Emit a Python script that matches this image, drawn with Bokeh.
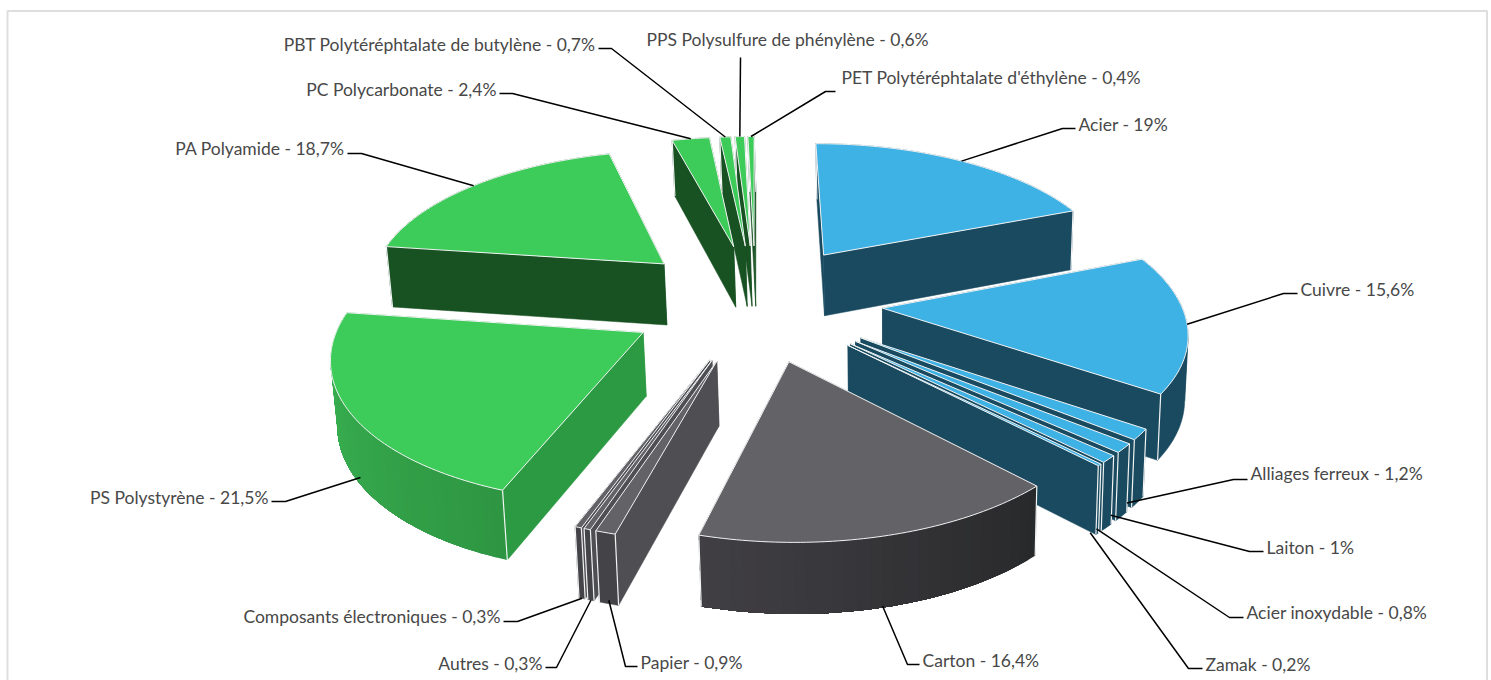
import math
from bokeh.plotting import figure
from bokeh.models import Range1d
from bokeh.core.properties import value
from bokeh.embed import file_html
from bokeh.resources import INLINE

# ---- data -------------------------------------------------------------
materials = ["Acier", "Cuivre", "Alliages ferreux", "Laiton", "Acier inoxydable", "Zamak",
             "Carton", "Papier", "Autres", "Composants électroniques",
             "PS Polystyrène", "PA Polyamide", "PC Polycarbonate",
             "PBT Polytéréphtalate de butylène", "PPS Polysulfure de phénylène",
             "PET Polytéréphtalate d'éthylène"]
shares = [19, 15.6, 1.2, 1, 0.8, 0.2, 16.4, 0.9, 0.3, 0.3, 21.5, 18.7, 2.4, 0.7, 0.6, 0.4]
families = ["blue"] * 6 + ["gray"] * 4 + ["green"] * 6

# ---- style ------------------------------------------------------------
TOP = {"blue": "#3EB1E5", "gray": "#626267", "green": "#3DCC59"}
RADIAL = {"blue": "#1A4A60", "gray": "#4F4E53", "green": "#185223"}
RADIAL_OVERRIDE = {"PS Polystyrène": "#2C9A43"}
RIM = {"Carton": ("#28292B", "#413F44"), "PS Polystyrène": ("#2E9642", "#3BB855")}
RIM_DEFAULT = {"blue": ("#1A4A60", "#1A4A60"), "gray": ("#444448", "#444448"), "green": ("#185223", "#185223")}
EDGE = "#F2F4F4"
# projection of the tilted pie
CX, CY, A, B, K, EXPLODE = 755, 301, 298, 138, 0.135, 0.426
DEPTH, K_D, LEAN, VX = 62.6, 0.0886, 0.012, 900
# label: x, y, align, elbow points, fraction of wall height for the leader's end, end nudge
LAYOUT = {
    "Acier": (1078, 124, "left", [(1075, 128), (1062, 128)], 0, (0, 0)),
    "Cuivre": (1300, 289, "left", [(1297, 293), (1283, 293)], 0, (0, 0)),
    "Alliages ferreux": (1250, 473, "left", [(1247, 479), (1233, 479)], 0.85, (-11, 11)),
    "Laiton": (1266, 547, "left", [(1263, 551), (1249, 551)], 0.85, (-11, 9)),
    "Acier inoxydable": (1246, 612, "left", [(1243, 617), (1229, 617)], 0.9, (-10, 8)),
    "Zamak": (1205, 664, "left", [(1202, 668), (1188, 668)], 1.0, (-7, -1)),
    "Carton": (922, 660, "left", [(919, 664), (907, 664)], 0.9, (-3, 6)),
    "Papier": (640, 662, "left", [(637, 666), (625, 666)], 0.95, (0, 0)),
    "Autres": (542, 663, "right", [(545, 667), (556, 667)], 1.0, (0, 0)),
    "Composants électroniques": (500, 616, "right", [(503, 621), (517, 621)], 1.0, (0, 0)),
    "PS Polystyrène": (268, 497, "right", [(271, 501), (285, 501)], 0.9, (4, 4)),
    "PA Polyamide": (344, 148, "right", [(347, 153), (361, 153)], 0, (0, 0)),
    "PC Polycarbonate": (496, 89, "right", [(499, 93), (512, 93)], 0, (0, 0)),
    "PBT Polytéréphtalate de butylène": (595, 44, "right", [(598, 48), (611, 48)], 0, (0, 0)),
    "PPS Polysulfure de phénylène": (646, 39, "left", [(740, 57)], 0, (0, 0)),
    "PET Polytéréphtalate d'éthylène": (841, 77, "left", [(835, 91), (825, 91)], 0, (0, 0)),
}


def proj(X, Y):
    w = 1 - K * Y
    sx = CX + A * X / w
    sy = CY + B * Y / w
    return sx, sy


def drop(X, Y):
    sx, sy = proj(X, Y)
    return sx + LEAN * (VX - sx), sy + DEPTH / (1 - K_D * Y)


def mix(c0, c1, t):
    a = [int(c0[i:i + 2], 16) for i in (1, 3, 5)]
    b = [int(c1[i:i + 2], 16) for i in (1, 3, 5)]
    return "#%02X%02X%02X" % tuple(round(u + (v - u) * t) for u, v in zip(a, b))


total = sum(shares)
slices = []
cum = 0.0
for name, s, fam in zip(materials, shares, families):
    a0 = 2 * math.pi * cum / total
    cum += s
    a1 = 2 * math.pi * cum / total
    mid = (a0 + a1) / 2
    ax, ay = EXPLODE * math.sin(mid), -EXPLODE * math.cos(mid)
    slices.append(dict(name=name, share=s, fam=fam, a0=a0, a1=a1, mid=mid, ax=ax, ay=ay))

pxs, pys, fills, lines, widths, line_alphas = [], [], [], [], [], []


def add(points, fill, line, width, la=1.0):
    pxs.append([q[0] for q in points])
    pys.append([q[1] for q in points])
    fills.append(fill)
    lines.append(line)
    widths.append(width)
    line_alphas.append(la)


def x_runs(rim):
    """Cut the rim where its picture turns back in x, so that no wall piece folds over itself."""
    runs, start, sign = [], 0, 0
    xs = [proj(*q)[0] for q in rim]
    for i in range(len(rim) - 1):
        d = xs[i + 1] - xs[i]
        s = 1 if d > 0 else -1
        if sign and s != sign:
            runs.append((start, i))
            start = i
        sign = s
    runs.append((start, len(rim) - 1))
    return runs


for sl in sorted(slices, key=lambda d: d["ay"]):
    ax, ay, a0, a1, fam, name = sl["ax"], sl["ay"], sl["a0"], sl["a1"], sl["fam"], sl["name"]
    n = max(2, int((a1 - a0) / math.radians(1.0)))
    rim = [(ax + math.sin(a0 + (a1 - a0) * i / n), ay - math.cos(a0 + (a1 - a0) * i / n)) for i in range(n + 1)]
    apex = (ax, ay)
    radial = RADIAL_OVERRIDE.get(name, RADIAL[fam])
    c0, c1 = RIM.get(name, RIM_DEFAULT[fam])

    def rim_wall():
        # each unfolded run in one piece, then overlapping gradient bands without strokes
        runs = sorted(x_runs(rim), key=lambda r: rim[(r[0] + r[1]) // 2][1])
        for i0, i1 in runs:
            if c0 == c1:
                seg = rim[i0:i1 + 1]
                add([proj(*q) for q in seg] + [drop(*q) for q in reversed(seg)], c0, c0, 0.5)
            else:
                # paint from the far end of the band towards i0 or i1 consistently
                for i in range(i0, i1, 2):
                    seg = rim[i:i1 + 1]
                    col = mix(c0, c1, (i + 1) / n)
                    add([proj(*q) for q in seg] + [drop(*q) for q in reversed(seg)], col, col, 0, 0.0)

    def radial_wall(end):
        add([proj(*apex), proj(*end), drop(*end), drop(*apex)], radial, radial, 0.5)

    # painter's order: the walls that look away from the viewer first
    items = [((apex[1] + rim[0][1]) / 2, lambda: radial_wall(rim[0])),
             ((apex[1] + rim[-1][1]) / 2, lambda: radial_wall(rim[-1])),
             (rim[n // 2][1], rim_wall)]
    for _, draw in sorted(items, key=lambda t: t[0]):
        draw()
    for end in (rim[0], rim[-1]):
        add([proj(*end), drop(*end)], None, EDGE, 1.2)
    add([proj(*apex)] + [proj(*q) for q in rim], TOP[fam], EDGE, 1.0)

p = figure(width=1491, height=680, x_range=Range1d(0, 1491), y_range=Range1d(680, 0),
           x_axis_type=None, y_axis_type=None, toolbar_location=None, output_backend="svg",
           min_border=0, outline_line_color=None, background_fill_color="white",
           border_fill_color="white")
p.grid.visible = False

# chart frame
p.line([7, 7, 1486.5, 1486.5], [680, 10.5, 10.5, 680], line_color="#DEDEDE", line_width=2)

p.patches(pxs, pys, fill_color=[f if f else "white" for f in fills],
          fill_alpha=[1 if f else 0 for f in fills], line_color=lines, line_width=widths,
          line_alpha=line_alphas)

# leaders and labels
for sl in slices:
    x, y, align, elbow, frac, nudge = LAYOUT[sl["name"]]
    rx = sl["ax"] + math.sin(sl["mid"])
    ry = sl["ay"] - math.cos(sl["mid"])
    t = proj(rx, ry)
    b = drop(rx, ry)
    end = (t[0] + (b[0] - t[0]) * frac + nudge[0], t[1] + (b[1] - t[1]) * frac + nudge[1])
    path = elbow + [end]
    p.line([q[0] for q in path], [q[1] for q in path], line_color="black", line_width=1.5)
    label = f"{sl['name']} - {str(sl['share']).replace('.', ',')}%"
    p.text([x], [y], text=[label], text_font=value("Lato"), text_font_size=value("17.5px"),
           text_color="#484848", text_align=align, text_baseline="middle")

open("out.html", "w").write(file_html(p, INLINE))
